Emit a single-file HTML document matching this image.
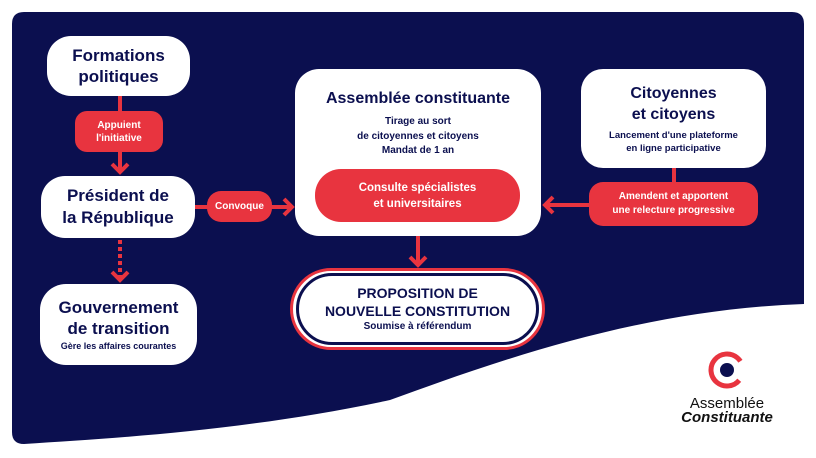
<!DOCTYPE html>
<html><head><meta charset="utf-8"><style>
html,body{margin:0;padding:0;width:816px;height:458px;overflow:hidden;background:#fff;font-family:"Liberation Sans",sans-serif}
.b{position:absolute;background:#fff;color:#0b0f4f;text-align:center;font-weight:bold;box-sizing:border-box;display:flex;flex-direction:column;justify-content:center;align-items:center}
.r{position:absolute;background:#e8343f;color:#fff;text-align:center;font-weight:bold;box-sizing:border-box;display:flex;flex-direction:column;justify-content:center;align-items:center}
</style></head><body>
<svg width="816" height="458" style="position:absolute;left:0;top:0">
<path d="M24 12 H792 Q804 12 804 24 V304 C640 310 500 360 390 400 C250 430 120 438 24 444 Q12 444 12 432 V24 Q12 12 24 12Z" fill="#0b0f4f"/>
<g stroke="#e8343f" stroke-width="4" fill="none">
<line x1="120" y1="96" x2="120" y2="172"/>
<polyline points="112,164 120,172 128,164"/>
<line x1="120" y1="240" x2="120" y2="278" stroke-dasharray="4,3"/>
<polyline points="112,272 120,280 128,272"/>
<line x1="195" y1="207" x2="292" y2="207"/>
<polyline points="284,199 292,207 284,215"/>
<line x1="418" y1="236" x2="418" y2="265"/>
<polyline points="410,257 418,265 426,257"/>
<line x1="674" y1="168" x2="674" y2="184"/>
<line x1="590" y1="205" x2="545" y2="205"/>
<polyline points="553,197 545,205 553,213"/>
</g>
<circle cx="727" cy="370" r="16" fill="none" stroke="#e8343f" stroke-width="5" stroke-dasharray="80 40" transform="rotate(40 727 370)"/>
<circle cx="727" cy="370" r="7" fill="#0b0f4f"/>
</svg>
<div class="b" style="left:47px;top:36px;width:143px;height:60px;border-radius:24px;font-size:17px;line-height:21px">Formations<br>politiques</div>
<div class="r" style="left:75px;top:111px;width:88px;height:41px;border-radius:12px;font-size:10px;line-height:13px">Appuient<br>l'initiative</div>
<div class="b" style="left:41px;top:176px;width:154px;height:62px;border-radius:24px;font-size:17px;line-height:22px">Président de<br>la République</div>
<div class="b" style="left:40px;top:284px;width:157px;height:81px;border-radius:26px;font-size:17px;line-height:21px">Gouvernement<br>de transition<span style="font-size:9px;line-height:14px">Gère les affaires courantes</span></div>
<div class="r" style="left:207px;top:191px;width:65px;height:31px;border-radius:14px;font-size:10px">Convoque</div>
<div class="b" style="left:295px;top:69px;width:246px;height:167px;border-radius:24px;justify-content:flex-start;padding-top:20px"><div style="font-size:16px;line-height:20px">Assemblée constituante</div><div style="font-size:10px;line-height:14.5px;margin-top:6px">Tirage au sort<br>de citoyennes et citoyens<br>Mandat de 1 an</div></div>
<div class="r" style="left:315px;top:169px;width:205px;height:53px;border-radius:26px;font-size:11.5px;line-height:16px">Consulte spécialistes<br>et universitaires</div>
<div style="position:absolute;left:290px;top:268px;width:255px;height:82px;border-radius:41px;border:3px solid #e8343f;box-sizing:border-box;background:#fff"></div>
<div class="b" style="left:296px;top:273px;width:243px;height:72px;border-radius:36px;border:3px solid #0b0f4f;font-size:14px;line-height:18px">PROPOSITION DE<br>NOUVELLE CONSTITUTION<span style="font-size:10px;line-height:14px">Soumise à référendum</span></div>
<div class="b" style="left:581px;top:69px;width:185px;height:99px;border-radius:22px;font-size:16px;line-height:21px">Citoyennes<br>et citoyens<span style="font-size:9.5px;line-height:13px;margin-top:4px">Lancement d'une plateforme<br>en ligne participative</span></div>
<div class="r" style="left:589px;top:182px;width:169px;height:44px;border-radius:14px;font-size:10px;line-height:14px">Amendent et apportent<br>une relecture progressive</div>
<div style="position:absolute;left:665px;top:397px;width:124px;text-align:center;color:#111;font-size:15px;line-height:14px">Assemblée<br><b><i>Constituante</i></b></div>
</body></html>
